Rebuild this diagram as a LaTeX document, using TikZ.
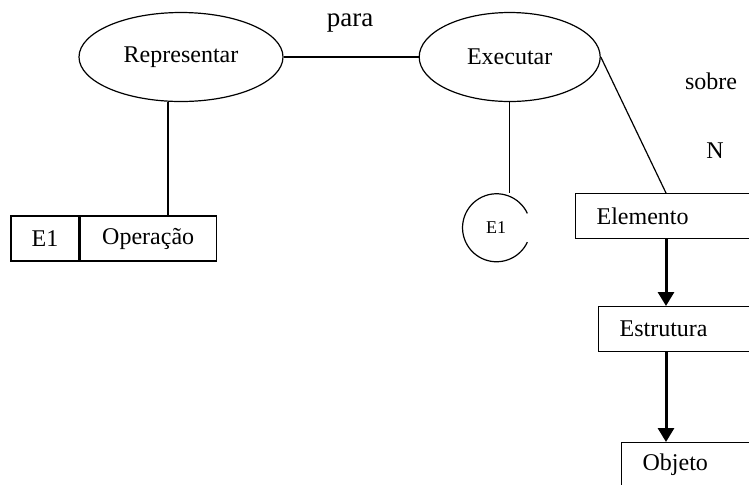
\documentclass[tikz,border=0pt]{standalone}
\usepackage{fontspec}
\setmainfont{Liberation Serif}
\usetikzlibrary{positioning, arrows.meta, shapes.geometric, calc}

\begin{document}
\begin{tikzpicture}[x=0.5pt, y=-0.5pt, line width=0.6pt, font=\fontsize{12}{14}\selectfont,
		acao/.style={draw, ellipse, minimum height=44.5pt, inner sep=0pt},
		caixa/.style={draw, rectangle, minimum height=22.5pt, inner sep=0pt},
		elo/.style={draw, rectangle, minimum height=22.5pt, text width=#1, align=left, inner xsep=10.5pt, inner ysep=0pt, anchor=north west},
		seta/.style={-{Triangle[width=8pt, length=7pt]}, line width=1.5pt}]
			\useasboundingbox (0,0) rectangle (749,484);
			\clip (0,0) rectangle (749,484);
			\node (Representar) [acao, minimum width=102pt] at (181,57) {Representar};
			\node (Executar) [acao, minimum width=90.5pt, right=67.5pt of Representar] {Executar};
			\node (E1a) [caixa, minimum width=34pt] at (45,238.5) {E1};
			\node (Operacao) [caixa, minimum width=68pt, right=0pt of E1a] {Operação};
			\node (E1c) [circle, minimum size=34pt, inner sep=0pt, font=\fontsize{9}{10}\selectfont] at (496,228) {E1};
			\node (Elemento) [elo=80pt] at (575,193) {Elemento};
			\node (Estrutura) [elo=70pt] at (598,306) {Estrutura};
			\node (Objeto) [elo=60pt] at (621,442) {Objeto};
			\node (para) [anchor=base, font=\fontsize{13.5}{15}\selectfont] at (350,26) {para};
			\node (sobre) [anchor=base] at (711,89) {sobre};
			\node (N) [anchor=base] at (715,158) {N};
			\coordinate (col) at (666,0);
			\draw (E1c.25) arc[start angle=25, end angle=335, radius=17pt];
			\draw (Representar) -- (Executar);
			\draw ([xshift=-6.5pt]Representar.south) -- ([xshift=-6.5pt]Representar.south |- Operacao.north);
			\draw (Executar.south) -- (Executar.south |- E1c.north);
			\draw (Executar.east) -- (Elemento.north -| col);
			\draw[seta] (Elemento.south -| col) -- (Estrutura.north -| col);
			\draw[seta] (Estrutura.south -| col) -- (Objeto.north -| col);
		\end{tikzpicture}
\end{document}
